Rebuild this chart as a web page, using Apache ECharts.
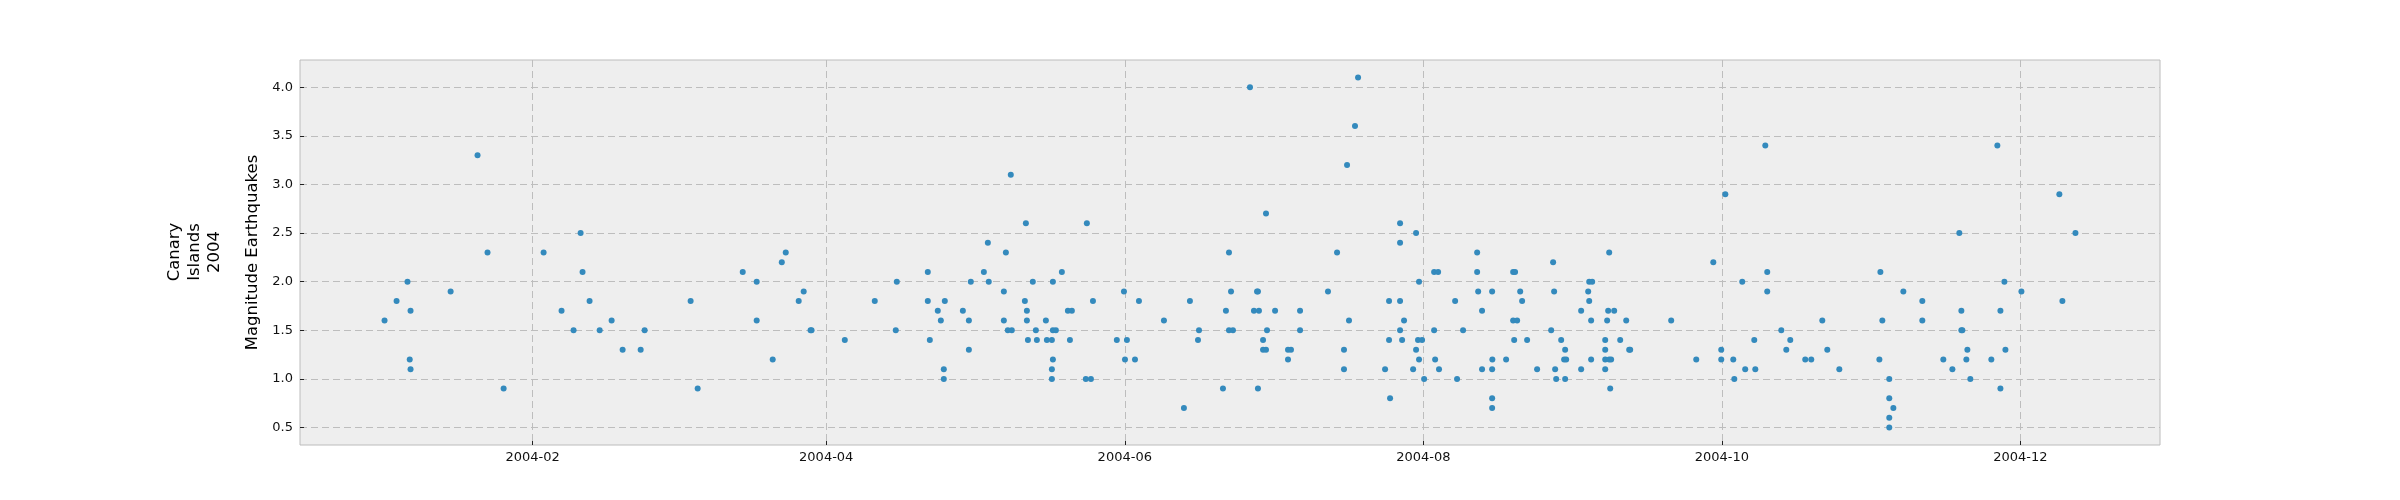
<!DOCTYPE html>
<html><head><meta charset="utf-8">
<script src="https://cdn.jsdelivr.net/npm/echarts@6/dist/echarts.min.js"></script>
<style>html,body{margin:0;padding:0;background:#fff}#c{width:2400px;height:500px}</style>
</head><body><div id="c"></div>
<script>
const dates = [
'2004-01-01 18:00','2004-01-04 05:00','2004-01-06 10:30','2004-01-06 21:30','2004-01-07 01:30','2004-01-07 01:30','2004-01-15 06:00','2004-01-20 18:00','2004-01-22 19:00','2004-01-26 02:00',
'2004-02-03 06:00','2004-02-06 22:00','2004-02-09 09:00','2004-02-10 19:30','2004-02-11 05:00','2004-02-12 15:30','2004-02-14 17:00','2004-02-17 03:30','2004-02-19 09:30','2004-02-23 02:00','2004-02-23 21:30','2004-03-04 07:00','2004-03-05 17:30','2004-03-14 22:30','2004-03-17 19:00','2004-03-17 19:00',
'2004-03-21 01:30','2004-03-22 22:00','2004-03-23 17:30','2004-03-26 09:00','2004-03-27 09:30','2004-03-28 19:00','2004-03-29 00:00','2004-04-04 19:00','2004-04-10 22:00','2004-04-15 05:00','2004-04-15 10:00','2004-04-21 18:00','2004-04-21 18:00','2004-04-22 04:00','2004-04-23 19:00','2004-04-24 10:00','2004-04-25 05:30','2004-04-25 00:30','2004-04-25 00:30','2004-04-28 22:00','2004-04-30 03:30','2004-04-30 03:30','2004-04-30 13:00','2004-05-03 05:00','2004-05-04 00:30','2004-05-04 05:00',
'2004-05-07 07:00','2004-05-07 07:00','2004-05-07 17:00','2004-05-08 02:30','2004-05-08 17:00','2004-05-08 22:00','2004-05-11 14:00','2004-05-11 19:00','2004-05-12 00:00','2004-05-12 00:00','2004-05-12 05:00','2004-05-13 05:00','2004-05-13 20:00','2004-05-14 01:00','2004-05-15 21:00','2004-05-16 02:00','2004-05-17 02:30','2004-05-17 07:30','2004-05-17 07:30','2004-05-17 22:00','2004-05-17 07:30','2004-05-17 02:30','2004-05-17 02:30','2004-05-19 03:30','2004-05-20 09:00','2004-05-21 04:30','2004-05-20 19:00','2004-05-24 01:00','2004-05-25 02:00','2004-05-24 06:00','2004-05-25 12:00','2004-05-30 09:00','2004-05-31 20:00','2004-06-01 01:00','2004-06-01 10:30','2004-06-03 02:00','2004-06-03 21:30','2004-06-09 00:00','2004-06-13 02:00','2004-06-14 07:30','2004-06-15 23:00','2004-06-16 04:00',
'2004-06-21 01:30','2004-06-21 16:00','2004-06-22 07:00','2004-06-22 07:00','2004-06-22 17:00','2004-06-23 02:30','2004-06-26 14:00','2004-06-27 09:30','2004-06-28 00:30','2004-06-28 05:00','2004-06-28 10:00','2004-06-28 05:00','2004-06-29 06:00','2004-06-29 06:00','2004-06-29 20:30','2004-06-29 20:30','2004-06-30 01:30','2004-07-01 17:00','2004-07-04 08:30','2004-07-04 23:00','2004-07-04 08:30','2004-07-06 19:30','2004-07-06 19:30','2004-07-12 12:30','2004-07-14 09:00','2004-07-15 19:00','2004-07-15 19:00','2004-07-16 10:00','2004-07-16 19:30','2004-07-18 01:00','2004-07-18 16:00','2004-07-24 04:30','2004-07-25 00:00','2004-07-25 00:00','2004-07-25 05:00','2004-07-27 06:00','2004-07-27 06:00','2004-07-27 06:00','2004-07-27 06:00','2004-07-27 16:00','2004-07-28 01:30','2004-07-29 22:00','2004-07-30 12:30','2004-07-30 12:30','2004-07-30 22:00','2004-07-31 03:00','2004-07-31 03:00','2004-07-31 18:00','2004-08-01 04:00','2004-08-03 05:00','2004-08-04 00:30','2004-08-03 05:00','2004-08-03 10:00','2004-08-04 05:00',
'2004-08-07 12:00','2004-08-07 21:30','2004-08-09 03:00','2004-08-12 00:00','2004-08-12 00:00','2004-08-12 05:00','2004-08-13 00:00','2004-08-13 00:00','2004-08-15 01:30','2004-08-15 02:30','2004-08-15 01:30','2004-08-15 01:30','2004-08-15 01:30','2004-08-17 22:00','2004-08-19 08:30','2004-08-19 18:00','2004-08-19 08:30','2004-08-20 04:00','2004-08-19 13:30','2004-08-20 19:00','2004-08-21 04:30','2004-08-22 05:00','2004-08-24 06:00','2004-08-27 03:00','2004-08-27 12:30','2004-08-27 17:30','2004-08-27 22:30','2004-08-28 03:30','2004-08-29 04:00','2004-08-29 23:30','2004-08-29 18:30','2004-08-30 04:30','2004-08-29 23:30','2004-09-02 06:00','2004-09-02 06:00','2004-09-03 16:30','2004-09-03 21:30','2004-09-03 21:30','2004-09-04 12:00','2004-09-04 07:00','2004-09-04 07:00','2004-09-07 04:00','2004-09-07 04:00','2004-09-07 04:00','2004-09-07 04:00','2004-09-07 18:30','2004-09-07 13:30','2004-09-07 23:30','2004-09-07 23:30','2004-09-08 09:00','2004-09-08 04:30','2004-09-09 00:00','2004-09-10 05:30','2004-09-11 11:00','2004-09-12 01:30','2004-09-12 06:30','2004-09-20 15:30',
'2004-09-25 18:30','2004-09-29 06:00','2004-09-30 21:00','2004-09-30 21:00','2004-10-01 17:00','2004-10-03 08:00','2004-10-03 13:00','2004-10-05 04:00','2004-10-05 18:30','2004-10-07 15:00','2004-10-07 20:00','2004-10-09 21:00','2004-10-10 06:30','2004-10-10 06:30','2004-10-13 03:30','2004-10-14 04:00','2004-10-14 23:30','2004-10-18 01:00','2004-10-19 06:30','2004-10-21 12:30','2004-10-22 13:00','2004-10-25 00:00','2004-11-02 04:30','2004-11-02 09:30','2004-11-02 19:00','2004-11-04 05:00','2004-11-04 05:00','2004-11-05 01:00','2004-11-04 05:00','2004-11-04 05:00','2004-11-07 02:00',
'2004-11-10 23:00','2004-11-10 23:00','2004-11-15 06:00','2004-11-17 02:30','2004-11-18 12:30','2004-11-18 22:30','2004-11-18 22:30','2004-11-19 03:30','2004-11-19 23:00','2004-11-20 04:00','2004-11-20 18:30','2004-11-25 01:30','2004-11-26 07:00','2004-11-26 22:00','2004-11-26 22:00','2004-11-27 17:30','2004-11-27 22:30','2004-12-01 05:00','2004-12-08 23:00','2004-12-09 14:00','2004-12-12 06:00'
];
const magnitudes = [
1.6,1.8,2.0,1.2,1.7,1.1,1.9,3.3,2.3,0.9,
2.3,1.7,1.5,2.5,2.1,1.8,1.5,1.6,1.3,1.3,1.5,1.8,0.9,2.1,2.0,1.6,
1.2,2.2,2.3,1.8,1.9,1.5,1.5,1.4,1.8,1.5,2.0,2.1,1.8,1.4,1.7,1.6,1.8,1.1,1.0,1.7,1.6,1.3,2.0,2.1,2.4,2.0,
1.9,1.6,2.3,1.5,3.1,1.5,1.8,2.6,1.7,1.6,1.4,2.0,1.5,1.4,1.6,1.4,1.4,2.0,1.5,1.5,1.2,1.1,1.0,2.1,1.7,1.7,1.4,1.0,1.0,2.6,1.8,1.4,1.9,1.2,1.4,1.2,1.8,1.6,0.7,1.8,1.4,1.5,
0.9,1.7,2.3,1.5,1.9,1.5,4.0,1.7,1.9,1.9,1.7,0.9,1.4,1.3,1.3,2.7,1.5,1.7,1.3,1.3,1.2,1.7,1.5,1.9,2.3,1.3,1.1,3.2,1.6,3.6,4.1,1.1,1.8,1.4,0.8,2.6,2.4,1.8,1.5,1.4,1.6,1.1,2.5,1.3,1.4,2.0,1.2,1.4,1.0,2.1,2.1,1.5,1.2,1.1,
1.8,1.0,1.5,2.3,2.1,1.9,1.7,1.1,1.9,1.2,1.1,0.8,0.7,1.2,2.1,2.1,1.6,1.6,1.4,1.9,1.8,1.4,1.1,1.5,2.2,1.9,1.1,1.0,1.4,1.3,1.2,1.2,1.0,1.7,1.1,1.9,1.8,2.0,2.0,1.6,1.2,1.4,1.3,1.2,1.1,1.7,1.6,2.3,1.2,1.2,0.9,1.7,1.4,1.6,1.3,1.3,1.6,
1.2,2.2,1.3,1.2,2.9,1.2,1.0,2.0,1.1,1.4,1.1,3.4,2.1,1.9,1.5,1.3,1.4,1.2,1.2,1.6,1.3,1.1,1.2,2.1,1.6,1.0,0.8,0.7,0.6,0.5,1.9,
1.8,1.6,1.2,1.1,2.5,1.7,1.5,1.5,1.2,1.3,1.0,1.2,3.4,1.7,0.9,2.0,1.3,1.9,2.9,1.8,2.5
];
const xTickLabels = ['2004-02','2004-04','2004-06','2004-08','2004-10','2004-12'];
const yTickValues = [0.5,1.0,1.5,2.0,2.5,3.0,3.5,4.0];
const yAxisTitle = 'Magnitude Earthquakes';
const sideTitle = 'Canary\nIslands\n2004';

const FONT = '"DejaVu Sans", sans-serif';
function toMs(s) {
  const m = s.match(/(\d+)-(\d+)-(\d+)(?:\s+(\d+):(\d+))?/);
  return new Date(+m[1], +m[2] - 1, +(m[3] || 1), +(m[4] || 0), +(m[5] || 0)).getTime();
}
const xTickValues = xTickLabels.map(s => toMs(s + '-01'));
const points = dates.map((d, i) => [toMs(d), magnitudes[i]]);
const pad = v => 0.05 * (v.max - v.min);
const fmtMonth = val => { const d = new Date(val); return d.getFullYear() + '-' + String(d.getMonth() + 1).padStart(2, '0'); };

const chart = echarts.init(document.getElementById('c'), null, {renderer: 'canvas'});
chart.setOption({
  animation: false,
  backgroundColor: '#ffffff',
  grid: {left: 300, right: 240, top: 60, bottom: 55, show: true, backgroundColor: '#eeeeee', borderColor: '#bcbcbc', borderWidth: 1},
  xAxis: {
    type: 'value',
    scale: true,
    min: v => v.min - pad(v),
    max: v => v.max + pad(v),
    axisLine: {show: false},
    axisTick: {show: true, inside: true, length: 4, lineStyle: {color: '#222', width: 1}, customValues: xTickValues},
    axisLabel: {customValues: xTickValues, color: '#111', fontSize: 13, fontFamily: FONT, margin: 6, formatter: fmtMonth},
    splitLine: {show: true, lineStyle: {color: '#bdbdbd', width: 1, type: [7, 4]}}
  },
  yAxis: {
    type: 'value',
    scale: true,
    min: v => v.min - pad(v),
    max: v => v.max + pad(v),
    name: yAxisTitle, nameLocation: 'middle', nameRotate: 90, nameGap: 27,
    nameTextStyle: {fontSize: 16.5, color: '#000', fontFamily: FONT},
    axisLine: {show: false},
    axisTick: {show: true, inside: true, length: 4, lineStyle: {color: '#222', width: 1}, customValues: yTickValues},
    axisLabel: {customValues: yTickValues, color: '#111', fontSize: 13, fontFamily: FONT, margin: 7,
      formatter: v => v.toFixed(1)},
    splitLine: {show: true, lineStyle: {color: '#bdbdbd', width: 1, type: [7, 4]}}
  },
  graphic: [{
    type: 'text', x: 195, y: 252, rotation: Math.PI / 2,
    style: {text: sideTitle, font: '16.5px ' + FONT, fill: '#000', align: 'center', verticalAlign: 'middle', lineHeight: 20}
  }],
  series: [{
    type: 'scatter', data: points, symbol: 'circle', symbolSize: 6,
    itemStyle: {color: '#348ABD', opacity: 1}
  }]
});
</script></body></html>
